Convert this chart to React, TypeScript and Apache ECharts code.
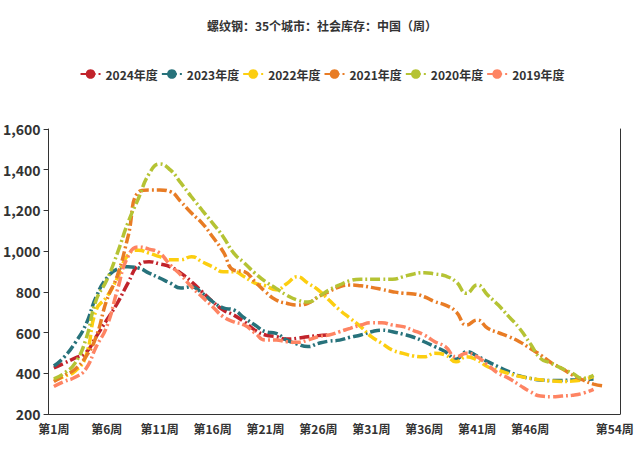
import React, { useEffect, useRef } from "react";
import * as echarts from "echarts";

const titleText = "螺纹钢：35个城市：社会库存：中国（周）";
const weeks: string[] = Array.from({ length: 54 }, (_, i) => `第${i + 1}周`);

const seriesNames = ["2024年度", "2023年度", "2022年度", "2021年度", "2020年度", "2019年度"];
const seriesColors = ["#C1232B", "#27727B", "#FCCE10", "#E87C25", "#B5C334", "#FE8463"];

const data2024 = [
  426, 450, 475, 500, 580, 662, 745, 843, 932, 948,
  937, 923, 892, 850, 801, 752, 711, 686, 653, 612,
  588, 580, 568, 572, 580, 585, 588,
];
const data2023 = [
  436, 481, 549, 637, 776, 868, 912, 923, 917, 892,
  868, 843, 819, 825, 794, 752, 721, 711, 672, 637,
  604, 596, 563, 544, 531, 547, 558, 563, 577, 588,
  604, 612, 604, 592, 577, 555, 531, 506, 469, 506,
  485, 457, 432, 408, 387, 375, 367, 365, 365, 367, 370, 372,
];
const data2022 = [
  365, 385, 410, 481, 711, 776, 868, 981, 1005, 990,
  973, 958, 958, 973, 948, 923, 899, 899, 874, 843,
  830, 810, 840, 874, 843, 809, 760, 711, 670, 629,
  580, 547, 514, 498, 485, 481, 498, 490, 457, 481,
  465, 432, 415, 398, 385, 375, 368, 362, 360, 362, 368, 385,
];
const data2021 = [
  360, 390, 420, 480, 580, 760, 880, 1070, 1290, 1300,
  1300, 1292, 1243, 1187, 1138, 1071, 997, 907, 899, 850,
  800, 760, 744, 735, 744, 776, 801, 825, 834, 830,
  822, 812, 801, 793, 790, 776, 752, 735, 703, 637,
  662, 621, 600, 580, 555, 523, 490, 452, 424, 392, 367, 347, 337,
];
const data2020 = [
  372, 401, 450, 563, 760, 858, 990, 1140, 1260, 1380,
  1428, 1399, 1335, 1267, 1202, 1138, 1071, 990, 942, 892,
  850, 817, 784, 760, 750, 776, 809, 834, 855, 862,
  862, 862, 862, 874, 888, 894, 888, 878, 850, 793,
  834, 784, 735, 678, 621, 547, 473, 449, 424, 400, 375, 390,
];
const data2019 = [
  335, 360, 380, 420, 530, 629, 809, 973, 1020, 1010,
  990, 932, 883, 825, 776, 727, 678, 653, 637, 598,
  563, 563, 555, 552, 563, 580, 588, 604, 621, 637,
  648, 648, 637, 629, 610, 588, 555, 531, 481, 498,
  481, 441, 400, 375, 342, 310, 288, 285, 288, 292, 302, 321,
];

const allData = [data2024, data2023, data2022, data2021, data2020, data2019];

const FONT = '"Noto Sans CJK SC", "Noto Sans", sans-serif';

export default function App() {
  const ref = useRef<HTMLDivElement>(null);
  useEffect(() => {
    if (!ref.current) return;
    const chart = echarts.init(ref.current, undefined, { renderer: "svg" });
    chart.setOption({
      animation: false,
      backgroundColor: "#ffffff",
      textStyle: { fontFamily: FONT },
      title: {
        text: titleText,
        left: "center",
        top: 14,
        textStyle: { fontSize: 12, fontWeight: "bold", color: "#333", fontFamily: FONT },
      },
      legend: {
        data: seriesNames,
        left: "center",
        top: 63,
        itemWidth: 20,
        itemHeight: 12,
        itemGap: 3,
        textStyle: { fontSize: 12, fontWeight: "bold", color: "#333", fontFamily: FONT },
      },
      grid: { left: 45, right: 24, top: 129, bottom: 42, containLabel: false },
      xAxis: {
        type: "category",
        data: weeks,
        boundaryGap: true,
        axisLine: { lineStyle: { color: "#333", width: 1 } },
        axisTick: {
          interval: (i: number) => i % 5 === 0,
          lineStyle: { color: "#333" },
        },
        axisLabel: {
          interval: (i: number) => (i % 5 === 0 && i < 50) || i === 53,
          color: "#333",
          fontSize: 12,
          fontWeight: "bold",
          fontFamily: FONT,
        },
        splitLine: { show: false },
      },
      yAxis: [
        {
          type: "value",
          min: 200,
          max: 1600,
          interval: 200,
          axisLine: { show: true, lineStyle: { color: "#333" } },
          axisTick: { show: true, lineStyle: { color: "#333" } },
          axisLabel: { color: "#333", fontSize: 14, fontWeight: "bold", fontFamily: FONT },
          splitLine: { show: false },
        },
        {
          type: "value",
          min: 200,
          max: 1600,
          interval: 200,
          position: "right",
          axisLine: { show: true, lineStyle: { color: "#333" } },
          axisTick: { show: false },
          axisLabel: { show: false },
          splitLine: { show: false },
        },
      ],
      series: seriesNames.map((name, i) => ({
        name,
        type: "line",
        data: allData[i],
        smooth: true,
        symbol: "circle",
        symbolSize: 8,
        showSymbol: false,
        color: seriesColors[i],
        lineStyle: { width: 3.5, type: [10, 3, 2, 3], color: seriesColors[i] },
        itemStyle: { color: seriesColors[i] },
      })),
    });
    return () => chart.dispose();
  }, []);
  return (
    <div
      ref={ref}
      style={{ position: "absolute", left: 0, top: 0, width: 644, height: 456 }}
    />
  );
}
